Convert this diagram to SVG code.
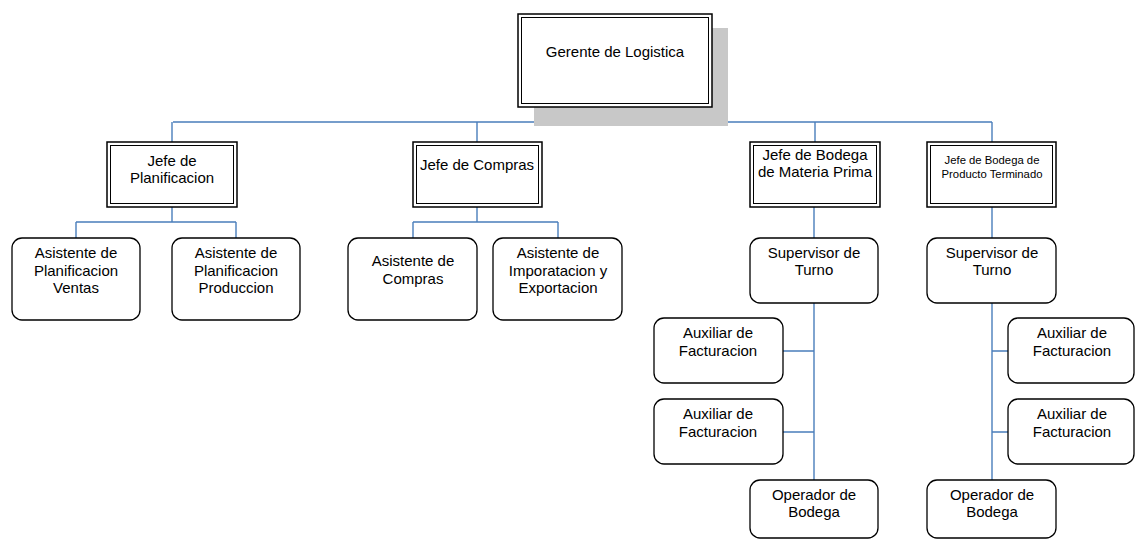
<svg xmlns="http://www.w3.org/2000/svg" width="1135" height="541" viewBox="0 0 1135 541">
<style>
.t{font-family:"Liberation Sans",Arial,sans-serif;font-size:15px;fill:#000;text-anchor:middle}
.s{font-size:11.3px}
.ob{fill:#fff;stroke:#000;stroke-width:1.5}
.ib{fill:none;stroke:#000;stroke-width:1}
.rb{fill:#fff;stroke:#000;stroke-width:1.3}
.c{fill:none;stroke:#4a7ebb;stroke-width:1.4}
</style>
<g id="connectors">
<path class="c" d="M615,107V122M173,122H992M172,122V142M477,122V142M815,122V142M992,122V142"/>
<path class="c" d="M172,207V222M76,222H236M76,222V238M236,222V238"/>
<path class="c" d="M477,207V222M413,222H558M413,222V238M558,222V238"/>
<path class="c" d="M814,207V238M814,303V480M783,351H814M783,432H814"/>
<path class="c" d="M992,207V238M992,303V480M992,351H1008M992,432H1008"/>
</g>
<g id="gerente">
<rect x="534" y="28" width="194" height="98" fill="#c8c8c8"/>
<rect class="ob" x="518" y="14" width="194" height="93"/>
<rect class="ib" x="521.5" y="17.5" width="187" height="86"/>
<text class="t" x="615" y="57">Gerente de Logistica</text>
</g>
<g id="jefe-planificacion">
<rect class="ob" x="107" y="142" width="130" height="65"/>
<rect class="ib" x="110.5" y="145.5" width="123" height="58"/>
<text class="t" x="172" y="166">Jefe de</text>
<text class="t" x="172" y="183">Planificacion</text>
</g>
<g id="jefe-compras">
<rect class="ob" x="413" y="142" width="129" height="65"/>
<rect class="ib" x="416.5" y="145.5" width="122" height="58"/>
<text class="t" x="477" y="170">Jefe de Compras</text>
</g>
<g id="jefe-bodega-mp">
<rect class="ob" x="750" y="142" width="130" height="65"/>
<rect class="ib" x="753.5" y="145.5" width="123" height="58"/>
<text class="t" x="815" y="160">Jefe de Bodega</text>
<text class="t" x="815" y="177">de Materia Prima</text>
</g>
<g id="jefe-bodega-pt">
<rect class="ob" x="927" y="142" width="129" height="65"/>
<rect class="ib" x="930.5" y="145.5" width="122" height="58"/>
<text class="t s" x="992" y="164">Jefe de Bodega de</text>
<text class="t s" x="992" y="178">Producto Terminado</text>
</g>
<g id="asist-plan-ventas">
<rect class="rb" x="12" y="238" width="128" height="82" rx="10"/>
<text class="t" x="76" y="258">Asistente de</text>
<text class="t" x="76" y="276">Planificacion</text>
<text class="t" x="76" y="293">Ventas</text>
</g>
<g id="asist-plan-produccion">
<rect class="rb" x="172" y="238" width="128" height="82" rx="10"/>
<text class="t" x="236" y="258">Asistente de</text>
<text class="t" x="236" y="276">Planificacion</text>
<text class="t" x="236" y="293">Produccion</text>
</g>
<g id="asist-compras">
<rect class="rb" x="348" y="238" width="129" height="82" rx="10"/>
<text class="t" x="413" y="266">Asistente de</text>
<text class="t" x="413" y="284">Compras</text>
</g>
<g id="asist-import">
<rect class="rb" x="493" y="238" width="129" height="82" rx="10"/>
<text class="t" x="558" y="258">Asistente de</text>
<text class="t" x="558" y="276">Imporatacion y</text>
<text class="t" x="558" y="293">Exportacion</text>
</g>
<g id="supervisor-mp">
<rect class="rb" x="750" y="238" width="128" height="65" rx="10"/>
<text class="t" x="814" y="258">Supervisor de</text>
<text class="t" x="814" y="275">Turno</text>
</g>
<g id="auxiliar-mp-1">
<rect class="rb" x="654" y="318" width="129" height="65" rx="10"/>
<text class="t" x="718" y="338">Auxiliar de</text>
<text class="t" x="718" y="356">Facturacion</text>
</g>
<g id="auxiliar-mp-2">
<rect class="rb" x="654" y="399" width="129" height="65" rx="10"/>
<text class="t" x="718" y="419">Auxiliar de</text>
<text class="t" x="718" y="437">Facturacion</text>
</g>
<g id="operador-mp">
<rect class="rb" x="750" y="480" width="128" height="58" rx="10"/>
<text class="t" x="814" y="500">Operador de</text>
<text class="t" x="814" y="517">Bodega</text>
</g>
<g id="supervisor-pt">
<rect class="rb" x="927" y="238" width="129" height="65" rx="10"/>
<text class="t" x="992" y="258">Supervisor de</text>
<text class="t" x="992" y="275">Turno</text>
</g>
<g id="auxiliar-pt-1">
<rect class="rb" x="1008" y="318" width="126" height="65" rx="10"/>
<text class="t" x="1072" y="338">Auxiliar de</text>
<text class="t" x="1072" y="356">Facturacion</text>
</g>
<g id="auxiliar-pt-2">
<rect class="rb" x="1008" y="399" width="126" height="65" rx="10"/>
<text class="t" x="1072" y="419">Auxiliar de</text>
<text class="t" x="1072" y="437">Facturacion</text>
</g>
<g id="operador-pt">
<rect class="rb" x="927" y="480" width="129" height="58" rx="10"/>
<text class="t" x="992" y="500">Operador de</text>
<text class="t" x="992" y="517">Bodega</text>
</g>
</svg>
